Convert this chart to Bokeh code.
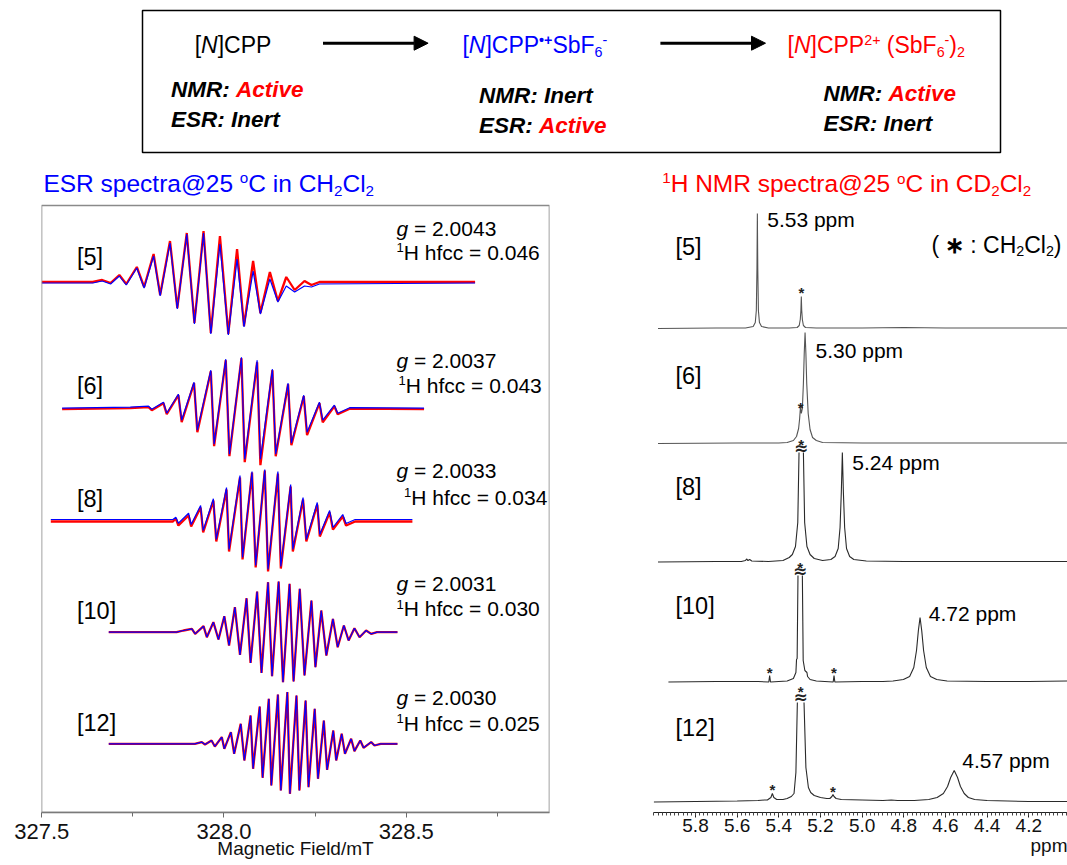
import numpy as np
from bokeh.plotting import figure
from bokeh.layouts import column, row
from bokeh.models import (Range1d, FixedTicker, NumeralTickFormatter, BoxAnnotation,
                          Arrow, NormalHead, Title)
from bokeh.core.properties import value
from bokeh.embed import file_html
from bokeh.resources import INLINE

FONT = "Liberation Sans"
NAN = float("nan")

# ---------------- data: ESR ----------------
esr_labels = ["[5]", "[6]", "[8]", "[10]", "[12]"]
esr_g = ["2.0043", "2.0037", "2.0033", "2.0031", "2.0030"]
esr_hfcc = ["0.046", "0.043", "0.034", "0.030", "0.025"]

esr5_field = [327.500, 327.640, 327.666, 327.689, 327.713, 327.732, 327.761, 327.781, 327.807, 327.825,
              327.852, 327.872, 327.898, 327.919, 327.944, 327.964, 327.989, 328.012, 328.036, 328.055,
              328.080, 328.100, 328.126, 328.148, 328.171, 328.194, 328.221, 328.240, 328.262, 328.689]
esr5_sim = [0, 0, 2, -1, 7, -2, 15, -5, 27, -13, 40, -26, 49, -41, 50, -51, 39, -52, 24, -44,
            12, -31, 4, -19, -3, -9, -3, -4, -1, 0]
esr5_exp = [1, 1, 3, 0, 8, -1, 16, -4, 29, -12, 42, -25, 50, -40, 52, -50, 47, -51, 34, -43,
            22, -30, 11, -18, 6, -7, 2, -2, 1, 1]

esr6_field = [327.556, 327.743, 327.793, 327.802, 327.834, 327.843, 327.875, 327.884, 327.918, 327.927,
              327.964, 327.973, 328.005, 328.015, 328.048, 328.057, 328.091, 328.100, 328.133, 328.142,
              328.176, 328.185, 328.219, 328.228, 328.262, 328.271, 328.303, 328.312, 328.345, 328.549]
esr6_sim = [0, 1, 2, -1, 6, -5, 14, -12, 26, -22, 38, -36, 49, -46, 51, -51, 48, -51, 39, -46,
            25, -35, 13, -24, 6, -12, 3, -5, 0.5, 0]
esr6_exp = [-1, 0, 1, -2, 5, -6, 13, -14, 25, -24, 37, -38, 48, -48, 50, -54, 46, -57, 38, -48,
            24, -37, 12, -27, 5, -14, 2, -6, -0.5, -1]

esr8_field = [327.525, 327.860, 327.868, 327.875, 327.903, 327.910, 327.936, 327.943, 327.971, 327.979,
              328.007, 328.014, 328.044, 328.051, 328.077, 328.087, 328.112, 328.121, 328.148, 328.156,
              328.183, 328.189, 328.217, 328.226, 328.256, 328.263, 328.290, 328.299, 328.326, 328.335,
              328.360, 328.517]
esr8_sim = [0, 0, 2.3, -3.7, 6.3, -5, 14, -11, 20.7, -20, 32, -30, 44, -38, 48, -46, 50, -50, 48, -47,
            35, -30, 22, -20, 17, -15, 9, -8, 5, -4, 0, 0]
esr8_exp = [-2, -2, 1, -6, 4, -7, 12, -13, 19, -22, 30, -32, 42, -40, 47, -48, 49, -52, 46, -49,
            33, -32, 20, -22, 15, -17, 7, -10, 3, -6, -2, -2]

esr10_field = [327.684, 327.870, 327.889, 327.912, 327.921, 327.944, 327.953, 327.971, 327.985, 328.001,
               328.014, 328.030, 328.044, 328.062, 328.073, 328.091, 328.103, 328.121, 328.132, 328.150,
               328.162, 328.180, 328.191, 328.208, 328.221, 328.240, 328.251, 328.267, 328.281, 328.299,
               328.312, 328.329, 328.342, 328.358, 328.372, 328.390, 328.404, 328.420, 328.476]
esr10_sim = [0, 0, 1.7, 3.3, -1.7, 6, -5, 10, -7.3, 16, -13.3, 25, -22.7, 34, -30.7, 40.7, -40.7, 50, -44, 50.7,
             -50, 48.3, -49.3, 43.3, -43.3, 31.7, -35, 21.7, -23.3, 13.3, -15, 6.7, -8.3, 4, -5, 1.7, -1.7, 0, 0]

esr12_field = [327.684, 327.920, 327.939, 327.948, 327.966, 327.975, 327.994, 328.001, 328.019, 328.028,
               328.046, 328.056, 328.073, 328.080, 328.098, 328.106, 328.123, 328.130, 328.148, 328.156,
               328.174, 328.181, 328.199, 328.207, 328.224, 328.232, 328.249, 328.258, 328.274, 328.283,
               328.300, 328.308, 328.323, 328.332, 328.349, 328.358, 328.374, 328.383, 328.404, 328.413,
               328.430, 328.476]
esr12_sim = [0, 0, 1.7, -0.7, 3.3, -2.7, 6.7, -5, 11.7, -10, 20, -16.7, 28.3, -25, 37.3, -34, 45, -41.7, 49.3, -46.7,
             51.7, -50, 48.3, -46.7, 43.3, -43.3, 35, -35, 23.3, -26, 13.3, -16.7, 10, -10, 5, -7.3, 3.3, -4, 1.7, -1.7,
             0, 0]

esr_ticks = [327.5, 328.0, 328.5]
esr_minor = [327.75, 328.25, 328.75]

# ---------------- data: NMR ----------------
nmr_labels = ["[5]", "[6]", "[8]", "[10]", "[12]"]
nmr_peak_labels = ["5.53 ppm", "5.30 ppm", "5.24 ppm", "4.72 ppm", "4.57 ppm"]

nmr5_ppm = [5.98, 5.70, 5.56, 5.523, 5.513, 5.508, 5.505, 5.503, 5.501, 5.498, 5.493, 5.483, 5.45, 5.35, 5.312,
            5.302, 5.297, 5.294, 5.292, 5.290, 5.287, 5.282, 5.272, 5.22, 5.0, 4.8, 4.6, 4.3, 4.014]
nmr5_int = [0, 0.5, 0.5, 2, 6, 18, 60, 115, 60, 18, 6, 2, 0.5, 0.5, 1,
            3, 9, 18, 32, 18, 9, 3, 1, 0.5, 0.5, 1, 0.5, 0.5, 0.5]

nmr6_ppm = [5.98, 5.60, 5.40, 5.36, 5.33, 5.315, 5.305, 5.300, 5.296, 5.292, 5.287, 5.282, 5.278, 5.274, 5.270,
            5.266, 5.259, 5.250, 5.238, 5.22, 5.19, 5.0, 4.7, 4.4, 4.014]
nmr6_int = [0, 0.5, 0.5, 1, 3, 7, 15, 25, 37, 30, 35, 60, 90, 111, 90,
            60, 30, 14, 6, 3, 1, 0.5, 0.5, 0.5, 0.5]

nmr8_ppm = [5.98, 5.70, 5.58, 5.56, 5.555, 5.548, 5.54, 5.53, 5.45, 5.38, 5.35, 5.335, 5.320, 5.309, 5.303,
            NAN, 5.282, 5.276, 5.265, 5.250, 5.23, 5.19, 5.15, 5.13, 5.115, 5.106, 5.100, 5.095, 5.090, 5.084,
            5.075, 5.06, 5.04, 4.98, 4.80, 4.50, 4.014]
nmr8_int = [0.5, 1, 1, 2, 3.5, 2, 3, 1.5, 1, 2, 5, 8, 16, 40, 110,
            NAN, 110, 40, 16, 8, 4, 2, 3, 6, 14, 35, 70, 110, 70, 35,
            14, 6, 3, 1.5, 1, 1, 1]

nmr10_ppm = [5.93, 5.70, 5.50, 5.448, 5.444, 5.440, 5.40, 5.36, 5.33, 5.318, 5.315, 5.312, 5.308, NAN, 5.287,
             5.283, 5.275, 5.265, 5.262, 5.25, 5.22, 5.139, 5.135, 5.131, 5.00, 4.90, 4.852, 4.802, 4.772, 4.752,
             4.739, 4.730, 4.722, 4.714, 4.705, 4.692, 4.672, 4.642, 4.592, 4.40, 4.20, 4.014]
nmr10_int = [0.5, 1, 1, 0.5, 7, 0.5, 1, 1.5, 4, 10, 23, 24, 107, NAN, 107,
             22, 12, 10, 6, 3, 1.5, 0.5, 7, 0.5, 1, 1, 1.5, 3, 6, 15,
             32, 52, 65, 52, 32, 15, 6, 3, 1.5, 1, 1, 1.5]

nmr12_ppm = [6.00, 5.80, 5.60, 5.50, 5.47, 5.455, 5.438, 5.431, 5.424, 5.41, 5.38, 5.36, 5.34, 5.327, 5.318,
             5.311, NAN, 5.279, 5.270, 5.258, 5.247, 5.23, 5.20, 5.17, 5.155, 5.145, 5.140, 5.135, 5.125, 5.10,
             5.00, 4.90, 4.86, 4.83, 4.75, 4.68, 4.64, 4.61, 4.59, 4.575, 4.558, 4.542, 4.528, 4.51, 4.49,
             4.46, 4.40, 4.20, 4.014]
nmr12_int = [0.5, 1, 1.5, 2, 2.5, 2.5, 5, 9, 5, 3, 3, 4, 6, 9, 30,
             100, NAN, 100, 35, 15, 10, 7, 5, 4, 4, 6, 8, 6, 4, 3,
             2.5, 2, 2.5, 2, 2, 3, 5, 9, 16, 25, 32, 25, 16, 9, 5,
             3, 2, 1, 1]

nmr_ticks = [5.8, 5.6, 5.4, 5.2, 5.0, 4.8, 4.6, 4.4, 4.2]
nmr_minor = [round(4.02 + 0.02 * k, 2) for k in range(100)]

# solvent (CH2Cl2) marks: (ppm, page-y of star)
nmr_star_ppm = [5.292, 5.295, 5.2925, 5.2975, 5.444, 5.135, 5.295, 5.431, 5.140]
nmr_star_py = [290, 405, 442.7, 565, 670, 670, 689.3, 787.3, 789]
nmr_break_ppm = [5.2925, 5.2975, 5.295]
nmr_break_py = [448.5, 571.7, 697]

# ---------------- styling / layout ----------------
BLUE = "#0000ff"
RED = "#ff0000"
K = "#000000"

REG = {' ': 278, '[': 278, ']': 278, '(': 333, ')': 333, 'N': 722, 'C': 722, 'P': 667, 'S': 667, 'b': 556,
       'F': 611, 'H': 722, 'M': 833, 'R': 722, 'E': 667, 'D': 722, 'l': 222, 'I': 278, 'A': 667, '.': 278,
       '+': 584, '-': 333, '\u2022': 350, ':': 278, '=': 584, 's': 500, 'p': 556, 'e': 556, 'c': 500,
       't': 278, 'r': 333, 'a': 556, '@': 1015, 'o': 556, 'i': 222, 'n': 556, 'h': 556, 'f': 278, 'g': 556,
       'v': 500, 'm': 833, '\u2217': 800, '*': 389}
BOLD = {' ': 278, 'N': 722, 'M': 833, 'R': 722, ':': 333, 'A': 722, 'c': 556, 't': 333, 'i': 278, 'v': 556,
        'e': 556, 'E': 667, 'S': 667, 'I': 278, 'n': 611, 'r': 389, '\u2022': 350, '+': 584, '\u2217': 800}

VSHIFT = 0.35  # renderer places the alphabetic baseline this much (em) lower than requested


def tw(text, style):
    table = BOLD if "bold" in style else REG
    return sum(table.get(ch, 556) for ch in text) / 1000.0


def rich(fig, cx, cy, x, yc, segs, size, anchor="left"):
    items, total = [], 0.0
    for t, st, kind, col in segs:
        s = size * 0.62 if kind != "n" else size
        items.append((t, st, kind, col, s, total))
        total += tw(t, st) * s
    x0 = x - total if anchor == "right" else x
    base = yc + 0.358 * size
    for t, st, kind, col, s, off in items:
        dy = {"n": 0.0, "sup": -0.36 * size, "sub": 0.16 * size}[kind]
        fig.text(x=[cx(x0 + off)], y=[cy(base + dy - VSHIFT * s)], text=[t.replace(" ", "\u00a0")],
                 text_font=value(FONT), text_font_size=f"{s:.1f}px", text_font_style=st,
                 text_color=col, text_baseline="alphabetic", text_align="left")


def ident(v):
    return v


def style_fig(f):
    f.grid.visible = False
    f.background_fill_color = "white"
    f.border_fill_color = "white"
    f.outline_line_color = None


# ---------- top scheme ----------
top = figure(width=1067, height=166, x_range=Range1d(0, 1067), y_range=Range1d(166, 0),
             output_backend="svg", toolbar_location=None, min_border=0,
             x_axis_location=None, y_axis_location=None)
style_fig(top)
top.add_layout(BoxAnnotation(left=142, right=1000, top=10, bottom=152, fill_color=None, fill_alpha=0,
                             line_color="black", line_alpha=1.0, line_width=1.5))
for xs, xe in [(322.5, 427.6), (659.9, 765.0)]:
    top.add_layout(Arrow(end=NormalHead(size=14, fill_color="black", line_color="black"),
                         x_start=xs, y_start=42.7, x_end=xe, y_end=42.7,
                         line_width=3, line_color="black"))

FS = 23
rich(top, ident, ident, 194.2, 44.5,
     [("[", "normal", "n", K), ("N", "italic", "n", K), ("]CPP", "normal", "n", K)], FS)
rich(top, ident, ident, 461.9, 44.5,
     [("[", "normal", "n", BLUE), ("N", "italic", "n", BLUE), ("]CPP", "normal", "n", BLUE),
      ("\u2022+", "bold", "sup", BLUE), ("SbF", "normal", "n", BLUE), ("6", "normal", "sub", BLUE),
      ("-", "normal", "sup", BLUE)], FS)
rich(top, ident, ident, 787.0, 44.5,
     [("[", "normal", "n", RED), ("N", "italic", "n", RED), ("]CPP", "normal", "n", RED),
      ("2+", "normal", "sup", RED), (" (SbF", "normal", "n", RED), ("6", "normal", "sub", RED),
      ("-", "normal", "sup", RED), (")", "normal", "n", RED), ("2", "normal", "sub", RED)], FS)

SS = 22.5
BI = "bold italic"
rich(top, ident, ident, 170.5, 89.3, [("NMR: ", BI, "n", K), ("Active", BI, "n", RED)], SS)
rich(top, ident, ident, 170.5, 119.3, [("ESR: Inert", BI, "n", K)], SS)
rich(top, ident, ident, 478.5, 95.0, [("NMR: Inert", BI, "n", K)], SS)
rich(top, ident, ident, 478.5, 125.0, [("ESR: ", BI, "n", K), ("Active", BI, "n", RED)], SS)
rich(top, ident, ident, 823.0, 93.3, [("NMR: ", BI, "n", K), ("Active", BI, "n", RED)], SS)
rich(top, ident, ident, 823.0, 123.3, [("ESR: Inert", BI, "n", K)], SS)

# ---------- ESR panel ----------
X0, PXMT = 41.2, 364.5


def ecx(px):
    return 327.5 + (px - X0) / PXMT


def ecy(py):
    return 812.0 - py


esr = figure(width=575, height=699, x_range=Range1d(ecx(41), ecx(549)), y_range=Range1d(0, 646),
             output_backend="svg", toolbar_location=None, min_border_left=41, min_border_right=26,
             min_border_top=0, min_border_bottom=53, y_axis_location=None)
style_fig(esr)
esr.add_layout(BoxAnnotation(left=ecx(41), right=ecx(549), bottom=0, top=ecy(205), fill_color=None,
                             fill_alpha=0, line_color="#8a8a8a", line_alpha=1.0, line_width=1.6))
ax = esr.xaxis[0]
ax.ticker = FixedTicker(ticks=esr_ticks, minor_ticks=esr_minor)
ax.formatter = NumeralTickFormatter(format="0.0")
ax.axis_line_color = "#6a6a6a"
ax.axis_line_width = 1.5
ax.major_tick_line_color = "#6a6a6a"
ax.minor_tick_line_color = "#6a6a6a"
ax.major_tick_in, ax.major_tick_out = 0, 5
ax.minor_tick_in, ax.minor_tick_out = 0, 4
ax.major_label_text_font = FONT
ax.major_label_text_font_size = "22px"
ax.major_label_text_color = "#111111"
ax.major_label_standoff = 6
ax.axis_label = "Magnetic Field/mT"
ax.axis_label_text_font = FONT
ax.axis_label_text_font_size = "19px"
ax.axis_label_text_font_style = "normal"
ax.axis_label_text_color = "#111111"
ax.axis_label_standoff = -4

esr_offsets = [529.5, 404.3, 293.0, 180.3, 68.7]
esr_sets = [(esr5_field, esr5_sim, esr5_exp), (esr6_field, esr6_sim, esr6_exp),
            (esr8_field, esr8_sim, esr8_exp), (esr10_field, esr10_sim, esr10_sim),
            (esr12_field, esr12_sim, esr12_sim)]
for (fld, sim, exp), off in zip(esr_sets, esr_offsets):
    esr.line(fld, [off + v for v in exp], line_color=RED, line_width=2.3)
    esr.line(fld, [off + v for v in sim], line_color=BLUE, line_width=1.2)

esr_label_y = [256.7, 385.0, 498.0, 610.0, 722.0]
esr_g_y = [228.3, 360.0, 470.0, 583.3, 696.7]
esr_h_y = [251.7, 385.0, 496.7, 608.3, 722.7]
esr_h_x = [396.0, 398.0, 403.6, 396.0, 396.0]
for i in range(5):
    rich(esr, ecx, ecy, 76.5, esr_label_y[i], [(esr_labels[i], "normal", "n", K)], 23.5)
    rich(esr, ecx, ecy, 396.0, esr_g_y[i],
         [("g", "italic", "n", K), (" = " + esr_g[i], "normal", "n", K)], 21)
    rich(esr, ecx, ecy, esr_h_x[i], esr_h_y[i],
         [("1", "normal", "sup", K), ("H hfcc = " + esr_hfcc[i], "normal", "n", K)], 21)

rich(esr, ecx, ecy, 42.9, 182.7,
     [("ESR spectra@25 ", "normal", "n", BLUE), ("o", "normal", "sup", BLUE),
      ("C in CH", "normal", "n", BLUE), ("2", "normal", "sub", BLUE),
      ("Cl", "normal", "n", BLUE), ("2", "normal", "sub", BLUE)], 24.5)

# ---------- NMR panel ----------
P0, PXPPM = 695.0, 208.3


def ncx(px):
    return 5.8 + (P0 - px) / PXPPM


ncy = ecy

nmr = figure(width=492, height=699, x_range=Range1d(ncx(653), ncx(1067)), y_range=Range1d(0, 646),
             output_backend="svg", toolbar_location=None, min_border_left=78, min_border_right=0,
             min_border_top=0, min_border_bottom=53, y_axis_location=None)
style_fig(nmr)
bx = nmr.xaxis[0]
bx.ticker = FixedTicker(ticks=nmr_ticks, minor_ticks=nmr_minor)
bx.formatter = NumeralTickFormatter(format="0.0")
bx.axis_line_color = "#222222"
bx.major_tick_line_color = "#222222"
bx.minor_tick_line_color = "#444444"
bx.major_tick_in, bx.major_tick_out = 0, 5
bx.minor_tick_in, bx.minor_tick_out = 0, 3
bx.major_label_text_font = FONT
bx.major_label_text_font_size = "19px"
bx.major_label_text_color = "#111111"
bx.major_label_standoff = 1
nmr.add_layout(Title(text="ppm", align="right", text_font=FONT, text_font_size="19px",
                     text_font_style="normal", text_color="#111111", standoff=-4), "below")

nmr_offsets = [484.0, 369.0, 250.0, 130.0, 10.0]
nmr_sets = [(nmr5_ppm, nmr5_int), (nmr6_ppm, nmr6_int), (nmr8_ppm, nmr8_int),
            (nmr10_ppm, nmr10_int), (nmr12_ppm, nmr12_int)]
nmr_colors = ["#555555", "#555555", "#2a2a2a", "#2a2a2a", "#2a2a2a"]
for (ppm, inten), off, col in zip(nmr_sets, nmr_offsets, nmr_colors):
    nmr.line(np.array(ppm), off + np.array(inten), line_color=col, line_width=1.1)

nmr.text(x=nmr_star_ppm, y=[ncy(py + 1.5) for py in nmr_star_py], text=["*"] * len(nmr_star_ppm),
         text_font=value(FONT), text_font_size="15px", text_font_style="bold", text_color="#222222",
         text_align="center", text_baseline="alphabetic")
nmr.text(x=nmr_break_ppm, y=[ncy(py - 1) for py in nmr_break_py], text=["\u2248"] * 3,
         text_font=value("DejaVu Sans"), text_font_size="17px", text_font_style="bold",
         text_color="#222222", text_align="center", text_baseline="middle")

nmr_label_y = [246.7, 375.0, 486.7, 605.0, 727.7]
nmr_peak_x = [766.7, 815.0, 851.7, 928.3, 961.7]
nmr_peak_y = [219.3, 350.0, 461.7, 612.7, 760.0]
for i in range(5):
    rich(nmr, ncx, ncy, 675.0, nmr_label_y[i], [(nmr_labels[i], "normal", "n", K)], 23.5)
    rich(nmr, ncx, ncy, nmr_peak_x[i], nmr_peak_y[i], [(nmr_peak_labels[i], "normal", "n", K)], 21)

rich(nmr, ncx, ncy, 1061.0, 244.0,
     [("( ", "normal", "n", K), ("\u2217", "bold", "n", K), (" : CH", "normal", "n", K),
      ("2", "normal", "sub", K), ("Cl", "normal", "n", K), ("2", "normal", "sub", K),
      (")", "normal", "n", K)], 23, anchor="right")

rich(nmr, ncx, ncy, 661.7, 183.3,
     [("1", "normal", "sup", RED), ("H NMR spectra@25 ", "normal", "n", RED), ("o", "normal", "sup", RED),
      ("C in CD", "normal", "n", RED), ("2", "normal", "sub", RED),
      ("Cl", "normal", "n", RED), ("2", "normal", "sub", RED)], 24.5)

layout = column(top, row(esr, nmr))
open("out.html", "w").write(file_html(layout, INLINE))
